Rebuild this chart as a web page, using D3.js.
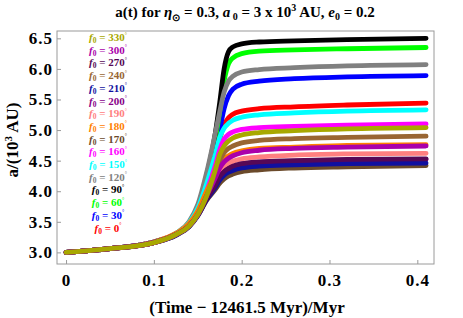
<!DOCTYPE html>
<html>
<head>
<meta charset="utf-8">
<script src="https://cdn.jsdelivr.net/npm/d3@7"></script>
<style>
  body { margin: 0; background: #fff; }
  text { font-family: "Liberation Serif", "Times New Roman", serif; font-weight: bold; }
</style>
</head>
<body>
<svg width="463" height="318"></svg>
<script>
// sample times (Myr after 12461.5 Myr)
var times = [0, 0.05, 0.1, 0.125, 0.14, 0.15, 0.16, 0.17, 0.175, 0.18, 0.185, 0.19, 0.2, 0.22, 0.26, 0.32, 0.41];

// a(t) in 10^3 AU, one array per initial angle f0
var a_f0_0   = [3.00,3.06,3.17,3.30,3.45,3.66,4.05,4.55,4.85,5.08,5.20,5.26,5.31,5.35,5.38,5.41,5.44];
var a_f0_30  = [3.00,3.06,3.17,3.30,3.46,3.68,4.10,4.65,5.00,5.35,5.56,5.67,5.75,5.80,5.84,5.87,5.89];
var a_f0_60  = [3.00,3.06,3.17,3.30,3.46,3.70,4.20,4.85,5.30,5.80,6.08,6.18,6.25,6.29,6.31,6.33,6.35];
var a_f0_90  = [3.00,3.06,3.17,3.30,3.47,3.72,4.25,4.95,5.45,6.00,6.28,6.36,6.41,6.44,6.46,6.48,6.50];
var a_f0_120 = [3.00,3.06,3.17,3.31,3.50,3.78,4.30,4.95,5.30,5.62,5.80,5.88,5.95,5.99,6.02,6.05,6.07];
var a_f0_150 = [3.00,3.06,3.17,3.31,3.48,3.72,4.12,4.60,4.88,5.03,5.11,5.16,5.21,5.25,5.28,5.31,5.33];
var a_f0_160 = [3.00,3.06,3.17,3.30,3.45,3.66,4.00,4.42,4.68,4.85,4.93,4.97,5.01,5.04,5.06,5.08,5.10];
var a_f0_170 = [3.00,3.06,3.16,3.28,3.42,3.60,3.85,4.03,4.13,4.20,4.25,4.28,4.32,4.35,4.38,4.40,4.42];
var a_f0_180 = [3.00,3.06,3.17,3.31,3.47,3.68,4.00,4.28,4.44,4.53,4.58,4.62,4.66,4.70,4.72,4.75,4.76];
var a_f0_190 = [3.00,3.06,3.16,3.29,3.43,3.62,3.90,4.15,4.30,4.39,4.45,4.49,4.53,4.56,4.59,4.61,4.62];
var a_f0_200 = [3.00,3.06,3.16,3.29,3.43,3.61,3.88,4.10,4.24,4.32,4.37,4.40,4.44,4.47,4.49,4.51,4.52];
var a_f0_210 = [3.00,3.06,3.16,3.28,3.42,3.60,3.86,4.06,4.18,4.26,4.31,4.34,4.38,4.41,4.43,4.45,4.46];
var a_f0_240 = [3.00,3.06,3.16,3.29,3.43,3.62,3.92,4.30,4.50,4.63,4.70,4.74,4.79,4.83,4.86,4.88,4.90];
var a_f0_270 = [3.00,3.06,3.16,3.29,3.43,3.61,3.88,4.10,4.24,4.32,4.37,4.41,4.45,4.48,4.50,4.52,4.53];
var a_f0_300 = [3.00,3.06,3.16,3.29,3.43,3.62,3.92,4.22,4.38,4.48,4.54,4.58,4.63,4.67,4.70,4.72,4.74];
var a_f0_330 = [3.00,3.06,3.16,3.29,3.43,3.62,3.92,4.35,4.60,4.74,4.82,4.87,4.92,4.96,4.99,5.02,5.04];

var angles = [0, 30, 60, 90, 120, 150, 160, 170, 180, 190, 200, 210, 240, 270, 300, 330];
var seriesValues = [a_f0_0, a_f0_30, a_f0_60, a_f0_90, a_f0_120, a_f0_150, a_f0_160, a_f0_170,
                    a_f0_180, a_f0_190, a_f0_200, a_f0_210, a_f0_240, a_f0_270, a_f0_300, a_f0_330];
var colors = ["#ff0000", "#0000ff", "#00ff00", "#000000", "#808080", "#00ffff", "#ff00ff", "#6b4a2b",
              "#ff8000", "#ff8080", "#880088", "#1010a0", "#996633", "#560856", "#aa00aa", "#a8a800"];

var xTicks = [0, 0.1, 0.2, 0.3, 0.4];
var yTicks = [3.0, 3.5, 4.0, 4.5, 5.0, 5.5, 6.0, 6.5];

var svg = d3.select("svg");

var x = d3.scaleLinear().domain([-0.0103, 0.419]).range([57, 434]);
var y = d3.scaleLinear().domain([2.81, 6.62]).range([264, 31]);

// frame
svg.append("rect")
  .attr("x", 57).attr("y", 31)
  .attr("width", 434 - 57).attr("height", 264 - 31)
  .attr("fill", "none").attr("stroke", "#9a9a9a").attr("stroke-width", 1);

// axes (ticks inside)
var xAxis = svg.append("g")
  .attr("transform", "translate(0,264)")
  .call(d3.axisBottom(x).tickValues(xTicks).tickSizeInner(-4).tickSizeOuter(0)
    .tickFormat(function(d) { return d === 0 ? "0" : d3.format(".1f")(d); }));
xAxis.select(".domain").remove();
xAxis.selectAll(".tick line").attr("stroke", "#9a9a9a");
xAxis.selectAll(".tick text")
  .attr("y", 10).attr("fill", "#000")
  .style("font-size", "17px").style("letter-spacing", "1px");

var yAxis = svg.append("g")
  .attr("transform", "translate(57,0)")
  .call(d3.axisLeft(y).tickValues(yTicks).tickSizeInner(-4).tickSizeOuter(0).tickFormat(d3.format(".1f")));
yAxis.select(".domain").remove();
yAxis.selectAll(".tick line").attr("stroke", "#9a9a9a");
yAxis.selectAll(".tick text")
  .attr("x", -4).attr("fill", "#000")
  .style("font-size", "17px").style("letter-spacing", "1px");

// curves
var line = d3.line()
  .x(function(d) { return x(d[0]); })
  .y(function(d) { return y(d[1]); })
  .curve(d3.curveMonotoneX);

svg.append("g").selectAll("path")
  .data(seriesValues)
  .enter().append("path")
    .attr("d", function(vals) { return line(vals.map(function(v, i) { return [times[i], v]; })); })
    .attr("fill", "none")
    .attr("stroke", function(d, i) { return colors[i]; })
    .attr("stroke-width", 4.8)
    .attr("stroke-linecap", "round")
    .attr("stroke-linejoin", "round");

// legend, 330 at top down to 0
var legend = svg.append("g");
var order = d3.range(angles.length).reverse();
order.forEach(function(idx, row) {
  var t = legend.append("text")
    .attr("x", 108)
    .attr("y", 41 + row * 12.7)
    .attr("text-anchor", "middle")
    .attr("fill", colors[idx])
    .style("font-size", "11px");
  t.append("tspan").style("font-style", "italic").text("f");
  t.append("tspan").attr("dy", 2).style("font-size", "7.5px").text("0");
  t.append("tspan").attr("dy", -2).text(" = " + angles[idx]);
  t.append("tspan").attr("dy", -4.5).style("font-size", "5.5px").style("font-weight", "normal").text("°");
});

// title
var title = svg.append("text")
  .attr("x", 245).attr("y", 17)
  .attr("text-anchor", "middle")
  .style("font-size", "15px");
title.append("tspan").text("a(t) for ");
title.append("tspan").style("font-style", "italic").text("η");
title.append("tspan").attr("dy", 4).style("font-size", "10px").text("⊙");
title.append("tspan").attr("dy", -4).text(" = 0.3, ");
title.append("tspan").style("font-style", "italic").text("a");
title.append("tspan").attr("dy", 3).style("font-size", "10px").text(" 0");
title.append("tspan").attr("dy", -3).text(" = 3 x 10");
title.append("tspan").attr("dy", -6).style("font-size", "10px").text("3");
title.append("tspan").attr("dy", 6).text(" AU, ");
title.append("tspan").style("font-style", "italic").text("e");
title.append("tspan").attr("dy", 3).style("font-size", "10px").text("0");
title.append("tspan").attr("dy", -3).text(" = 0.2");

// x label
svg.append("text")
  .attr("x", 247).attr("y", 313)
  .attr("text-anchor", "middle")
  .style("font-size", "17px")
  .text("(Time \u2212 12461.5 Myr)/Myr");

// y label
var ylab = svg.append("text")
  .attr("transform", "translate(18,140) rotate(-90)")
  .attr("text-anchor", "middle")
  .style("font-size", "17px");
ylab.append("tspan").text("a/(10");
ylab.append("tspan").attr("dy", -6).style("font-size", "11px").text("3");
ylab.append("tspan").attr("dy", 6).text(" AU)");
</script>
</body>
</html>
